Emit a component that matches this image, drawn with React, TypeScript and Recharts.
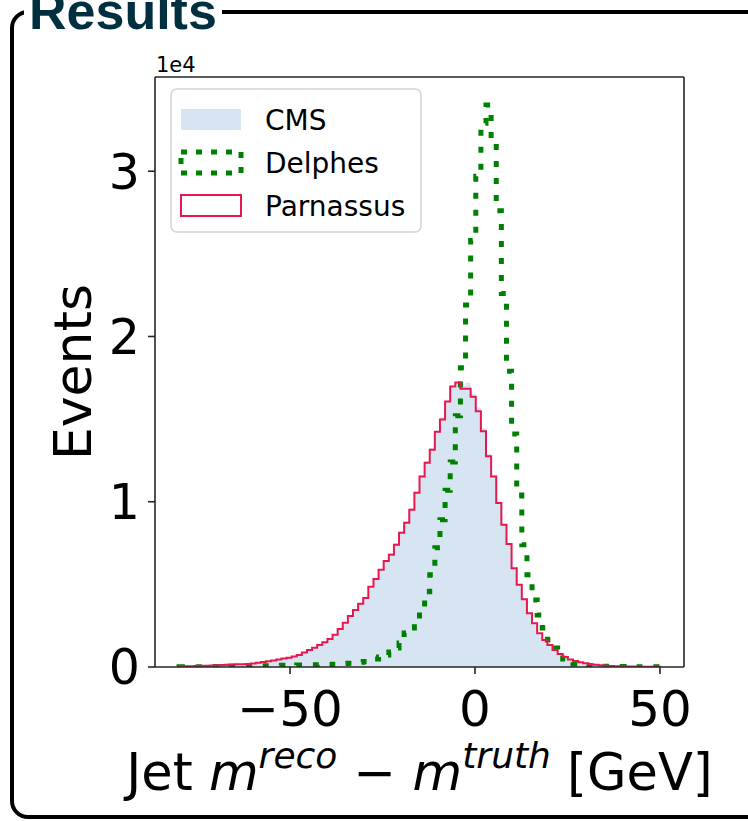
import React from 'react';
import { ComposedChart, Area, Line, XAxis, YAxis, Legend, ReferenceLine } from 'recharts';

// Histogram bins: edges from BIN_START to BIN_END, one value per bin
const BIN_START = -80;
const BIN_END = 50;

const CMS_EVENTS = [
  30, 40, 40, 50, 60, 70, 80, 100, 110, 130,
  140, 160, 170, 190, 210, 240, 280, 330, 380, 440,
  500, 560, 630, 710, 840, 980, 1130, 1300, 1480, 1680,
  1920, 2250, 2620, 3030, 3420, 3800, 4200, 4800, 5300, 5850,
  6450, 6900, 7500, 8200, 8800, 9600, 10600, 11600, 12450, 13250,
  14300, 15100, 16100, 16900, 17150, 17000, 17200, 16500, 15700, 14450,
  12900, 11600, 10000, 8650, 7450, 6000, 4950, 4050, 3200, 2580,
  1980, 1580, 1270, 980, 750, 580, 430, 340, 260, 200,
  150, 120, 90, 70, 50, 40, 30, 30, 20, 20,
  15, 10, 10, 10,
];

const DELPHES_EVENTS = [
  10, 10, 20, 20, 20, 30, 30, 30, 40, 40,
  50, 50, 60, 60, 70, 70, 80, 80, 90, 90,
  100, 110, 110, 120, 120, 130, 130, 140, 140, 150,
  170, 180, 210, 220, 250, 280, 330, 390, 480, 610,
  730, 910, 1150, 1450, 2060, 2360, 2730, 3450, 4550, 5580,
  7210, 8910, 10700, 12400, 15200, 18100, 21900, 25800, 29700, 32900,
  34000, 31700, 27600, 22600, 17900, 14100, 10400, 7390, 5580, 4060,
  3150, 2360, 1640, 1150, 730, 480, 300, 180, 120, 90,
  70, 60, 50, 40, 40, 30, 30, 20, 20, 20,
  10, 10, 10, 10,
];

const PARNASSUS_EVENTS = [
  40, 40, 50, 60, 70, 80, 90, 100, 120, 130,
  150, 160, 170, 180, 210, 250, 300, 350, 400, 450,
  510, 560, 640, 730, 880, 1030, 1170, 1330, 1500, 1700,
  1950, 2300, 2670, 3090, 3450, 3820, 4180, 4850, 5330, 5880,
  6420, 6790, 7390, 8120, 8730, 9520, 10550, 11520, 12360, 13150,
  14240, 14970, 16060, 16970, 17210, 16830, 16830, 16350, 15470, 14260,
  12750, 11530, 9920, 8610, 7440, 5980, 4970, 4100, 3250, 2650,
  2040, 1640, 1330, 1030, 790, 610, 450, 360, 280, 220,
  170, 130, 100, 70, 60, 50, 40, 30, 25, 20,
  20, 15, 10, 10,
];

const X_TICKS = [-50, 0, 50];
const Y_TICKS = [0, 10000, 20000, 30000];
const Y_SCALE = 10000;
const Y_SCALE_LABEL = '1e4';
const X_DOMAIN: [number, number] = [-86.5, 56.5];
const Y_DOMAIN: [number, number] = [0, 35700];

const TITLE = 'Results';
const Y_LABEL = 'Events';

const COLOR_CMS = '#d6e5f1';
const COLOR_DELPHES = '#008000';
const COLOR_PARNASSUS = '#e8184f';
const SPINE = '#262626';
const FONT = '"DejaVu Sans", sans-serif';

const LEGEND_ITEMS = [
  { name: 'CMS', kind: 'fill', color: COLOR_CMS },
  { name: 'Delphes', kind: 'dotted', color: COLOR_DELPHES },
  { name: 'Parnassus', kind: 'outline', color: COLOR_PARNASSUS },
];

// Build step-histogram table from the bin arrays
const nBins = CMS_EVENTS.length;
const binWidth = (BIN_END - BIN_START) / nBins;
const histData: any[] = [{ x: BIN_START, cms: 0, delphes: 0, parnassus: 0 }];
for (let i = 0; i < nBins; i++) {
  histData.push({
    x: BIN_START + i * binWidth,
    cms: CMS_EVENTS[i],
    delphes: DELPHES_EVENTS[i],
    parnassus: PARNASSUS_EVENTS[i],
  });
}
histData.push({
  x: BIN_END,
  cms: CMS_EVENTS[nBins - 1],
  delphes: DELPHES_EVENTS[nBins - 1],
  parnassus: PARNASSUS_EVENTS[nBins - 1],
});
histData.push({ x: BIN_END, cms: 0, delphes: 0, parnassus: 0 });

const fmtX = (v: number) => (v < 0 ? '\u2212' + Math.abs(v) : String(v));
const fmtY = (v: number) => String(v / Y_SCALE);

function XLabel(props: any) {
  const vb = props.viewBox || { x: 0, y: 0, width: 0, height: 0 };
  const cx = vb.x + vb.width / 2;
  const y = vb.y + 123;
  return (
    <text x={cx} y={y} textAnchor="middle" fontFamily={FONT} fontSize={51} fill="#000">
      <tspan>Jet </tspan>
      <tspan fontStyle="italic">m</tspan>
      <tspan fontStyle="italic" fontSize={36} dy={-22}>reco</tspan>
      <tspan dy={22}>{' \u2212 '}</tspan>
      <tspan fontStyle="italic">m</tspan>
      <tspan fontStyle="italic" fontSize={36} dy={-22}>truth</tspan>
      <tspan dy={22}>{' [GeV]'}</tspan>
    </text>
  );
}

function YLabel(props: any) {
  const vb = props.viewBox || { x: 0, y: 0, width: 0, height: 0 };
  const x = vb.x + 16;
  const cy = vb.y + vb.height / 2;
  return (
    <g>
      <text
        x={x}
        y={cy}
        transform={`rotate(-90 ${x} ${cy})`}
        textAnchor="middle"
        fontFamily={FONT}
        fontSize={52}
        fill="#000"
      >
        {Y_LABEL}
      </text>
      <text x={vb.x + vb.width + 1} y={vb.y - 5} fontFamily={FONT} fontSize={21} fill="#000">
        {Y_SCALE_LABEL}
      </text>
    </g>
  );
}

function LegendBox() {
  return (
    <svg width={252} height={146} style={{ display: 'block' }}>
      <rect x={1} y={1} width={250} height={143} rx={6} ry={6} fill="#fff" fillOpacity={0.8} stroke="#d4d4d4" strokeWidth={1.5} />
      {LEGEND_ITEMS.map((it, i) => {
        const top = 21 + i * 43;
        let patch: any = null;
        if (it.kind === 'fill') {
          patch = <rect x={11} y={top} width={60} height={21} fill={it.color} />;
        } else if (it.kind === 'dotted') {
          patch = (
            <rect x={11} y={top} width={60} height={21} fill="none" stroke={it.color} strokeWidth={5} strokeDasharray="6 9" />
          );
        } else {
          patch = <rect x={11} y={top} width={60} height={21} fill="none" stroke={it.color} strokeWidth={2} />;
        }
        return (
          <g key={it.name}>
            {patch}
            <text x={95} y={top + 21} fontFamily={FONT} fontSize={28} fill="#000">
              {it.name}
            </text>
          </g>
        );
      })}
    </svg>
  );
}

export default function App() {
  return (
    <div style={{ position: 'absolute', left: 0, top: 0, width: 748, height: 821, overflow: 'hidden', background: '#fff' }}>
      <div
        style={{
          position: 'absolute',
          left: 10,
          top: 10,
          width: 780,
          height: 809,
          border: '4px solid #000',
          borderRadius: 18,
          boxSizing: 'border-box',
        }}
      />
      <div style={{ position: 'absolute', left: 0, top: 0 }}>
        <ComposedChart
          width={748}
          height={821}
          data={histData}
          margin={{ top: 77, right: 64, bottom: 94, left: 75 }}
        >
          <XAxis
            xAxisId="b"
            type="number"
            dataKey="x"
            domain={X_DOMAIN}
            ticks={X_TICKS}
            allowDataOverflow
            tickFormatter={fmtX}
            height={60}
            tickSize={7}
            tickMargin={16}
            stroke={SPINE}
            strokeWidth={1.6}
            tick={{ fill: '#000', fontSize: 50, fontFamily: FONT }}
            label={<XLabel />}
          />
          <YAxis
            yAxisId="l"
            type="number"
            domain={Y_DOMAIN}
            ticks={Y_TICKS}
            allowDataOverflow
            tickFormatter={fmtY}
            width={80}
            tickSize={7}
            tickMargin={8}
            stroke={SPINE}
            strokeWidth={1.6}
            tick={{ fill: '#000', fontSize: 49, fontFamily: FONT }}
            label={<YLabel />}
          />
          <Legend
            layout="horizontal"
            verticalAlign="middle"
            align="center"
            content={() => <LegendBox />}
            wrapperStyle={{ position: 'absolute', left: 170, top: 88, width: 252, height: 146 }}
          />
          <Area
            xAxisId="b"
            yAxisId="l"
            type="stepAfter"
            dataKey="cms"
            name="CMS"
            fill={COLOR_CMS}
            fillOpacity={1}
            stroke="none"
            isAnimationActive={false}
            dot={false}
            activeDot={false}
          />
          <Line
            xAxisId="b"
            yAxisId="l"
            type="stepAfter"
            dataKey="delphes"
            name="Delphes"
            stroke={COLOR_DELPHES}
            strokeWidth={5}
            strokeDasharray="6 11"
            strokeLinecap="butt"
            dot={false}
            activeDot={false}
            isAnimationActive={false}
          />
          <Line
            xAxisId="b"
            yAxisId="l"
            type="stepAfter"
            dataKey="parnassus"
            name="Parnassus"
            stroke={COLOR_PARNASSUS}
            strokeWidth={2}
            dot={false}
            activeDot={false}
            isAnimationActive={false}
          />
          <ReferenceLine
            xAxisId="b"
            yAxisId="l"
            y={Y_DOMAIN[1]}
            stroke={SPINE}
            strokeWidth={1.6}
            ifOverflow="visible"
          />
          <ReferenceLine
            xAxisId="b"
            yAxisId="l"
            x={X_DOMAIN[1]}
            stroke={SPINE}
            strokeWidth={1.6}
            ifOverflow="visible"
          />
        </ComposedChart>
      </div>
      <div
        style={{
          position: 'absolute',
          left: 24,
          top: -15,
          paddingLeft: 5,
          paddingRight: 5,
          background: '#fff',
          color: '#00303f',
          fontFamily: '"Liberation Sans", Arial, sans-serif',
          fontWeight: 'bold',
          fontSize: 52,
          lineHeight: '52px',
          whiteSpace: 'nowrap',
        }}
      >
        {TITLE}
      </div>
    </div>
  );
}
